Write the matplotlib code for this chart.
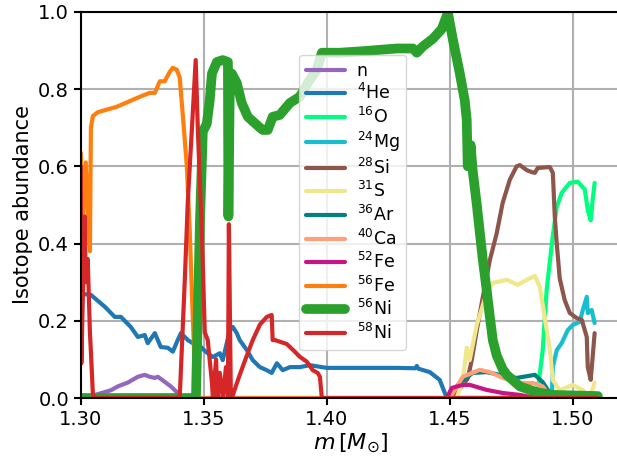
import matplotlib
matplotlib.use("Agg")
import matplotlib.pyplot as plt

# abundance profiles
n_x = [1.3000, 1.3069, 1.3122, 1.3150, 1.3191, 1.3232, 1.3260, 1.3280, 1.3301, 1.3313, 1.3341, 1.3366, 1.3394, 1.3410, 1.51]
n_y = [0.0, 0.01, 0.02, 0.03, 0.04, 0.055, 0.06, 0.055, 0.052, 0.055, 0.042, 0.03, 0.013, 0.0, 0.0]

he4_x = [1.3000, 1.3041, 1.3098, 1.3138, 1.3163, 1.3203, 1.3232, 1.3260, 1.3272, 1.3301, 1.3325, 1.3354,
         1.3374, 1.3394, 1.3407, 1.3435, 1.3455, 1.3488, 1.3508, 1.3537, 1.3565, 1.3577, 1.3606, 1.3618,
         1.3634, 1.3646, 1.3675, 1.3699, 1.3728, 1.3756, 1.3776, 1.3797, 1.3821, 1.3850, 1.3890, 1.3931,
         1.4000, 1.4146, 1.4285, 1.4360, 1.4366, 1.4372, 1.4419, 1.4459, 1.4488, 1.51]
he4_y = [0.27, 0.267, 0.236, 0.21, 0.21, 0.184, 0.158, 0.163, 0.142, 0.168, 0.132, 0.13,
         0.12, 0.15, 0.168, 0.15, 0.142, 0.132, 0.12, 0.106, 0.116, 0.098, 0.176, 0.184,
         0.168, 0.15, 0.124, 0.098, 0.08, 0.072, 0.065, 0.09, 0.072, 0.08, 0.08, 0.085,
         0.078, 0.078, 0.078, 0.077, 0.083, 0.076, 0.067, 0.047, 0.0, 0.0]

o16_x = [1.4854, 1.4878, 1.4894, 1.4919, 1.4935, 1.4955, 1.4988, 1.5020, 1.5049, 1.5061, 1.5073, 1.5081, 1.5089]
o16_y = [0.0, 0.124, 0.28, 0.42, 0.495, 0.531, 0.557, 0.56, 0.54, 0.487, 0.46, 0.513, 0.557]

mg24_x = [1.4915, 1.4919, 1.4935, 1.4955, 1.4980, 1.5000, 1.5028, 1.5041, 1.5057, 1.5061, 1.5077, 1.5089]
mg24_y = [0.0, 0.08, 0.124, 0.142, 0.176, 0.189, 0.197, 0.228, 0.262, 0.22, 0.228, 0.194]

si28_x = [1.4510, 1.4573, 1.4590, 1.4610, 1.4634, 1.4663, 1.4691, 1.4715, 1.4744, 1.4772, 1.4785, 1.4813,
          1.4833, 1.4846, 1.4858, 1.4866, 1.4907, 1.4919, 1.4927, 1.4935, 1.4947, 1.4967, 1.4988, 1.5016,
          1.5037, 1.5057, 1.5061, 1.5073, 1.5081, 1.5089]
si28_y = [0.0, 0.05, 0.10, 0.176, 0.26, 0.357, 0.427, 0.505, 0.565, 0.6, 0.603, 0.59,
          0.585, 0.583, 0.596, 0.596, 0.598, 0.583, 0.47, 0.40, 0.31, 0.254, 0.22, 0.207,
          0.202, 0.158, 0.08, 0.047, 0.106, 0.168]

s31_x = [1.4528, 1.4553, 1.4569, 1.4581, 1.4610, 1.4650, 1.4675, 1.4732, 1.4776, 1.4813, 1.4846, 1.4866,
         1.4886, 1.4907, 1.4919, 1.4947, 1.5000, 1.5041, 1.5069, 1.5089]
s31_y = [0.0, 0.045, 0.13, 0.098, 0.19, 0.272, 0.298, 0.306, 0.293, 0.306, 0.316, 0.288,
         0.21, 0.124, 0.047, 0.02, 0.034, 0.02, 0.0, 0.04]

ar36_x = [1.4488, 1.4541, 1.4593, 1.4650, 1.4703, 1.4772, 1.4846, 1.4878, 1.4907, 1.4930, 1.51]
ar36_y = [0.0, 0.039, 0.065, 0.067, 0.06, 0.052, 0.06, 0.041, 0.013, 0.0, 0.0]

ca40_x = [1.4500, 1.4553, 1.4622, 1.4663, 1.4715, 1.4785, 1.4837, 1.4878, 1.4898, 1.4915]
ca40_y = [0.0, 0.055, 0.073, 0.067, 0.052, 0.039, 0.039, 0.03, 0.013, 0.0]

fe52_x = [1.4488, 1.4508, 1.4553, 1.4581, 1.4650, 1.4715, 1.4785, 1.4850]
fe52_y = [0.0, 0.026, 0.034, 0.034, 0.021, 0.013, 0.008, 0.0]

fe56_x = [1.3000, 1.3008, 1.3020, 1.3037, 1.3041, 1.3049, 1.3069, 1.3146, 1.3240, 1.3280, 1.3301, 1.3321,
          1.3341, 1.3362, 1.3374, 1.3390, 1.3402, 1.3415, 1.3431, 1.3443, 1.3455, 1.3463, 1.3472, 1.40, 1.51]
fe56_y = [0.635, 0.45, 0.61, 0.38, 0.70, 0.73, 0.74, 0.754, 0.78, 0.79, 0.79, 0.82,
          0.82, 0.845, 0.855, 0.85, 0.83, 0.73, 0.60, 0.43, 0.21, 0.08, 0.0, 0.0, 0.0]

ni56_x = [1.3000, 1.3468, 1.3484, 1.3496, 1.3512, 1.3524, 1.3533, 1.3553, 1.3577, 1.3598, 1.3600, 1.3602,
          1.3606, 1.3614, 1.3634, 1.3654, 1.3679, 1.3707, 1.3728, 1.3740, 1.3760, 1.3780, 1.3809, 1.3850,
          1.3890, 1.3931, 1.3959, 1.3980, 1.4053, 1.4146, 1.4285, 1.4350, 1.4366, 1.4390, 1.4431, 1.4467,
          1.4488, 1.4492, 1.4512, 1.4541, 1.4561, 1.4569, 1.4573, 1.4585, 1.4593, 1.4610, 1.4622, 1.4634,
          1.4650, 1.4663, 1.4675, 1.4691, 1.4715, 1.4732, 1.4785, 1.4854, 1.4919, 1.5102]
ni56_y = [0.0, 0.0, 0.45, 0.69, 0.71, 0.77, 0.84, 0.87, 0.875, 0.87, 0.47, 0.60,
          0.82, 0.84, 0.816, 0.764, 0.728, 0.712, 0.70, 0.694, 0.694, 0.728, 0.733, 0.764,
          0.78, 0.824, 0.85, 0.894, 0.894, 0.898, 0.905, 0.905, 0.894, 0.91, 0.93, 0.955,
          0.99, 1.0, 0.93, 0.84, 0.77, 0.72, 0.60, 0.655, 0.59, 0.50, 0.43, 0.36,
          0.28, 0.21, 0.15, 0.11, 0.075, 0.06, 0.03, 0.015, 0.008, 0.005]

ni58_x = [1.3000, 1.3002, 1.3016, 1.3020, 1.3028, 1.3037, 1.3041, 1.3049, 1.3057, 1.3402, 1.3423, 1.3435,
          1.3451, 1.3467, 1.3476, 1.3492, 1.3504, 1.3516, 1.3533, 1.3537, 1.3550, 1.3555, 1.3565, 1.3577,
          1.3590, 1.3598, 1.3602, 1.3610, 1.3614, 1.3646, 1.3675, 1.3699, 1.3728, 1.3756, 1.3776, 1.3780,
          1.3789, 1.3837, 1.3862, 1.3890, 1.3919, 1.3943, 1.3963, 1.3972, 1.3980, 1.3984, 1.51]
ni58_y = [0.60, 0.09, 0.47, 0.30, 0.36, 0.17, 0.12, 0.01, 0.0, 0.0, 0.31, 0.51,
          0.69, 0.875, 0.69, 0.43, 0.17, 0.15, 0.04, 0.0, 0.10, 0.0, 0.065, 0.0,
          0.08, 0.0, 0.45, 0.0, 0.0, 0.06, 0.11, 0.15, 0.19, 0.21, 0.215, 0.15,
          0.15, 0.14, 0.125, 0.107, 0.094, 0.072, 0.065, 0.055, 0.0, 0.0, 0.0]

series = [
    (n_x, n_y, "n", "tab:purple", 3),
    (he4_x, he4_y, "$^{4}$He", "tab:blue", 3),
    (o16_x, o16_y, "$^{16}$O", "springgreen", 3),
    (mg24_x, mg24_y, "$^{24}$Mg", "tab:cyan", 3),
    (si28_x, si28_y, "$^{28}$Si", "tab:brown", 3),
    (s31_x, s31_y, "$^{31}$S", "khaki", 3),
    (ar36_x, ar36_y, "$^{36}$Ar", "teal", 3),
    (ca40_x, ca40_y, "$^{40}$Ca", "lightsalmon", 3),
    (fe52_x, fe52_y, "$^{52}$Fe", "mediumvioletred", 3),
    (fe56_x, fe56_y, "$^{56}$Fe", "tab:orange", 3),
    (ni56_x, ni56_y, "$^{56}$Ni", "tab:green", 7),
    (ni58_x, ni58_y, "$^{58}$Ni", "tab:red", 3),
]

fig = plt.figure(figsize=(6.17, 4.62), dpi=100)
# the right edge runs off the canvas, as in the original crop
ax = fig.add_axes([0.131, 0.1385, 0.875, 0.836])

for x, y, lab, col, lw in series:
    ax.plot(x, y, color=col, lw=lw, label=lab, solid_capstyle="round")

ax.set_xlim(1.30, 1.5195)
ax.set_ylim(0.0, 1.0)
ax.set_xticks([1.30, 1.35, 1.40, 1.45, 1.50])
ax.set_xticklabels(["1.30", "1.35", "1.40", "1.45", "1.50"])
ax.set_yticks([0.0, 0.2, 0.4, 0.6, 0.8, 1.0])
ax.set_yticklabels(["0.0", "0.2", "0.4", "0.6", "0.8", "1.0"])
ax.tick_params(labelsize=14, width=1.5, length=5)
for s in ax.spines.values():
    s.set_linewidth(1.5)
ax.grid(True, color="#b0b0b0", lw=1.5)
ax.set_axisbelow(True)

ax.set_xlabel(r"$m\,[M_{\odot}]$", fontsize=16, labelpad=2)
ax.set_ylabel("Isotope abundance", fontsize=15)

ax.legend(loc="upper left", bbox_to_anchor=(0.405, 0.889), borderaxespad=0,
          fontsize=12.5, handlelength=2.2, labelspacing=0.2, handletextpad=0.7)

fig.savefig("out.png", dpi=100)
